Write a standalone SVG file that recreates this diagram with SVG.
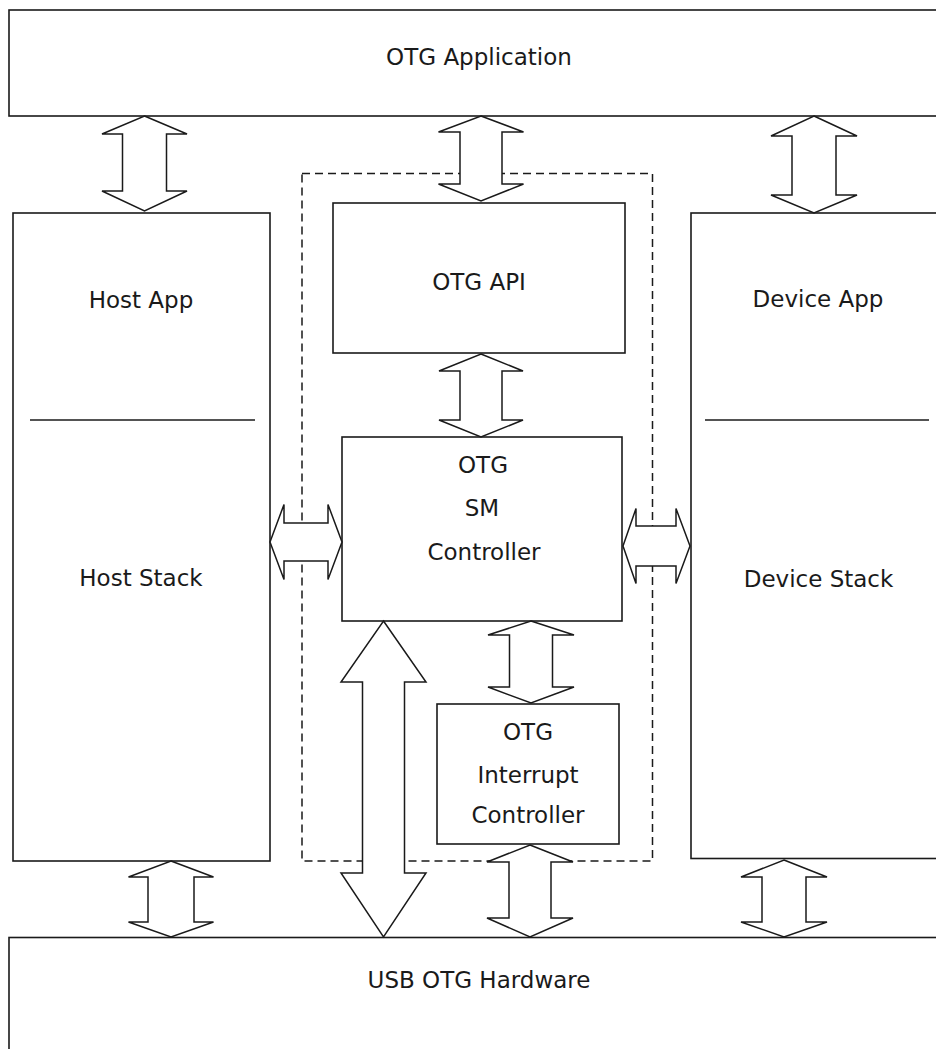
<svg xmlns="http://www.w3.org/2000/svg" width="936" height="1049" viewBox="0 0 936 1049">
<defs>
<style>
.box{fill:#fff;stroke:#1a1a1a;stroke-width:1.6}
.dash{fill:none;stroke:#1a1a1a;stroke-width:1.5;stroke-dasharray:8 5}
.arr{fill:#fff;stroke:#1a1a1a;stroke-width:1.5;stroke-linejoin:miter}
.sh{fill:none;stroke:#b0b0b0;stroke-width:1.5}
.line{stroke:#1a1a1a;stroke-width:1.5}
text{font-family:"DejaVu Sans","Verdana",sans-serif;font-size:23px;fill:#1a1a1a;text-anchor:middle}
</style>
</defs>
<rect width="936" height="1049" fill="#fff"/>

<g id="dashed-group">
<rect class="dash" x="302" y="173.5" width="350.5" height="687.5"/>
</g>

<g id="otg-application">
<rect class="box" x="9" y="10" width="945" height="106"/>
<text x="479" y="65">OTG Application</text>
</g>

<g id="host">
<rect class="box" x="13" y="213" width="257" height="648"/>
<line class="line" x1="30" y1="420" x2="255" y2="420"/>
<text x="141" y="308">Host App</text>
<text x="141" y="586">Host Stack</text>
</g>

<g id="device">
<rect class="box" x="691" y="213" width="260" height="645.5"/>
<line class="line" x1="705" y1="420" x2="929" y2="420"/>
<text x="818" y="307">Device App</text>
<text x="818.5" y="587">Device Stack</text>
</g>

<g id="otg-api">
<rect class="box" x="333" y="203" width="292" height="150"/>
<text x="479" y="290">OTG API</text>
</g>

<g id="sm-controller">
<rect class="box" x="342" y="437" width="280" height="184"/>
<text x="483" y="473">OTG</text>
<text x="482" y="516">SM</text>
<text x="484" y="560">Controller</text>
</g>

<g id="interrupt-controller">
<rect class="box" x="437" y="704" width="182" height="140"/>
<text x="528" y="740">OTG</text>
<text x="528" y="783">Interrupt</text>
<text x="528" y="823">Controller</text>
</g>

<g id="usb-otg-hardware">
<rect class="box" x="9" y="937.5" width="945" height="130"/>
<text x="479" y="988">USB OTG Hardware</text>
</g>

<g id="connectors">
<path class="arr" d="M144.5,116 L187,134 L166.5,134 L166.5,191 L187,191 L144.5,211 L102,191 L122.5,191 L122.5,134 L102,134 Z"/>
<path class="arr" d="M481,116 L523.5,132 L502,132 L502,184 L523.5,184 L481,201 L438.5,184 L460,184 L460,132 L438.5,132 Z"/>
<path class="arr" d="M814,116 L857,136 L836,136 L836,195 L857,195 L814,213 L771,195 L792,195 L792,136 L771,136 Z"/>
<path class="arr" d="M481,354 L523,371 L502,371 L502,420 L523,420 L481,437 L439,420 L460,420 L460,371 L439,371 Z"/>
<path class="arr" d="M531,621 L574,635 L552.5,635 L552.5,687 L574,687 L531,703 L488,687 L509.5,687 L509.5,635 L488,635 Z"/>
<path class="arr" d="M383.5,621 L426,682 L404.5,682 L404.5,873 L426,873 L383.5,937 L341,873 L362.5,873 L362.5,682 L341,682 Z"/>
<path class="arr" d="M530,845 L573,862 L551,862 L551,918 L573,918 L530,937 L487,918 L509,918 L509,862 L487,862 Z"/>
<path class="arr" d="M171,861 L213.5,877 L194,877 L194,922 L213.5,922 L171,937 L128.5,922 L148,922 L148,877 L128.5,877 Z"/>
<path class="arr" d="M784,860 L827,877 L806,877 L806,922 L827,922 L784,937 L741,922 L762,922 L762,877 L741,877 Z"/>
<path class="arr" d="M270,542 L284,504.5 L284,523 L328,523 L328,504.5 L342,542 L328,579.5 L328,561 L284,561 L284,579.5 Z"/>
<path class="arr" d="M623,546 L636,508.5 L636,526 L676,526 L676,508.5 L690,546 L676,583.5 L676,566 L636,566 L636,583.5 Z"/>
</g>
</svg>
